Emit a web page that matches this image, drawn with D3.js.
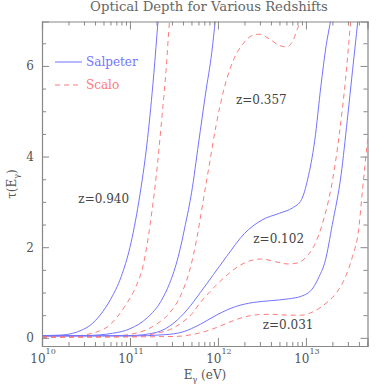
<!DOCTYPE html>
<html><head><meta charset="utf-8">
<script src="https://cdn.jsdelivr.net/npm/d3@7"></script>
<style>body{margin:0;background:#fff}svg{display:block}</style>
</head><body>
<svg id="c" width="388" height="388"></svg>
<script>
// ---------- data (log10 of photon energy in eV, optical depth tau) ----------
const xTickExponents = [10, 11, 12, 13];
const yTickLabels = [0, 2, 4, 6];
const legendLabels = ["Salpeter", "Scalo"];
const redshiftLabels = ["z=0.940", "z=0.357", "z=0.102", "z=0.031"];

const salpeter_z0940 = [[10.0,0.05],[10.2,0.06],[10.35,0.1],[10.45,0.17],[10.55,0.28],[10.66,0.5],[10.78,0.85],[10.9,1.35],[11.0,2.0],[11.1,3.0],[11.2,4.4],[11.27,5.8],[11.32,7.0],[11.35,7.6]];
const scalo_z0940 = [[10.0,0.02],[10.3,0.03],[10.5,0.07],[10.65,0.15],[10.75,0.25],[10.85,0.45],[10.96,0.75],[11.06,1.1],[11.15,1.6],[11.25,2.8],[11.3,3.6],[11.36,4.8],[11.41,5.9],[11.45,7.0],[11.48,7.5]];
const salpeter_z0357 = [[10.0,0.04],[10.5,0.05],[10.8,0.1],[11.0,0.2],[11.2,0.45],[11.35,0.8],[11.45,1.2],[11.55,1.8],[11.63,2.5],[11.7,3.2],[11.78,4.3],[11.86,5.4],[11.93,6.3],[11.97,7.0],[12.0,7.5]];
const scalo_z0357 = [[10.0,0.02],[10.8,0.04],[11.1,0.12],[11.3,0.3],[11.45,0.55],[11.58,0.95],[11.68,1.5],[11.76,2.2],[11.83,3.0],[11.9,3.8],[11.98,4.7],[12.07,5.5],[12.17,6.1],[12.29,6.5],[12.4,6.68],[12.47,6.7],[12.58,6.6],[12.7,6.45],[12.78,6.42],[12.85,6.55],[12.9,6.8],[12.95,7.05],[12.98,7.3]];
const salpeter_z0102 = [[10.0,0.04],[11.0,0.05],[11.3,0.12],[11.5,0.33],[11.65,0.62],[11.8,1.0],[11.95,1.4],[12.1,1.8],[12.3,2.3],[12.5,2.6],[12.7,2.75],[12.85,2.87],[12.95,3.05],[13.02,3.5],[13.1,4.35],[13.17,5.55],[13.23,6.45],[13.28,7.0],[13.31,7.4]];
const scalo_z0102 = [[10.0,0.02],[11.0,0.03],[11.3,0.1],[11.45,0.18],[11.6,0.35],[11.7,0.52],[11.8,0.78],[11.9,1.0],[12.0,1.2],[12.1,1.38],[12.25,1.6],[12.4,1.72],[12.5,1.74],[12.65,1.68],[12.8,1.63],[12.92,1.66],[13.0,1.78],[13.09,2.02],[13.2,2.6],[13.3,3.45],[13.38,4.5],[13.45,5.7],[13.51,7.0],[13.53,7.4]];
const salpeter_z0031 = [[10.0,0.05],[11.0,0.04],[11.4,0.07],[11.6,0.13],[11.8,0.3],[12.0,0.52],[12.2,0.69],[12.4,0.78],[12.6,0.82],[12.8,0.86],[12.95,0.92],[13.08,1.1],[13.15,1.35],[13.22,1.7],[13.3,2.5],[13.4,3.6],[13.47,4.8],[13.53,5.9],[13.59,7.0],[13.61,7.4]];
const scalo_z0031 = [[10.0,0.01],[11.5,0.03],[11.7,0.07],[11.87,0.15],[12.0,0.24],[12.15,0.36],[12.3,0.46],[12.45,0.51],[12.6,0.52],[12.8,0.5],[12.95,0.5],[13.05,0.55],[13.15,0.65],[13.25,0.8],[13.35,1.0],[13.45,1.35],[13.53,1.8],[13.6,2.4],[13.64,3.2],[13.7,4.35],[13.72,4.7]];

// ---------- layout ----------
const svg = d3.select("#c");
const L = 42, R = 367.5, T = 21.5, B = 346;
const FONT = "DejaVu Serif";
const TXT = "#555", AXC = "#888";
const BLUE = "#7373ff", RED = "#ff7a7a";

const x = d3.scaleLog().domain([1e10, Math.pow(10, 13.70)]).range([L, R]);
const y = d3.scaleLinear().domain([-0.18, 6.98]).range([B, T]);

svg.append("defs").append("clipPath").attr("id","clip")
  .append("rect").attr("x",L).attr("y",T).attr("width",R-L).attr("height",B-T);

// curves
const line = d3.line().x(d => x(Math.pow(10, d[0]))).y(d => y(d[1])).curve(d3.curveMonotoneX);
const series = [
  {d: salpeter_z0940, c: BLUE, dash: null},
  {d: scalo_z0940, c: RED, dash: "5,4"},
  {d: salpeter_z0357, c: BLUE, dash: null},
  {d: scalo_z0357, c: RED, dash: "5,4"},
  {d: salpeter_z0102, c: BLUE, dash: null},
  {d: scalo_z0102, c: RED, dash: "5,4"},
  {d: salpeter_z0031, c: BLUE, dash: null},
  {d: scalo_z0031, c: RED, dash: "5,4"}
];
const gc = svg.append("g").attr("clip-path","url(#clip)");
series.forEach(s => {
  gc.append("path").attr("d", line(s.d)).attr("fill","none")
    .attr("stroke", s.c).attr("stroke-width", 1)
    .attr("stroke-dasharray", s.dash);
});

// axes (ticks inward on all four sides)
const majorX = xTickExponents.map(e => Math.pow(10, e));
const minorX = [];
for (let e = 10; e <= 13; e++) for (let m = 2; m <= 9; m++) { const v = m * Math.pow(10, e); if (v <= x.domain()[1]) minorX.push(v); }
const minorY = d3.range(0, 7, 0.5).filter(v => yTickLabels.indexOf(v) < 0);

function styleAxis(g) {
  g.select(".domain").attr("stroke", AXC).attr("stroke-width", 1.2);
  g.selectAll(".tick line").attr("stroke", AXC).attr("stroke-width", 1);
  g.selectAll(".tick text").attr("fill", TXT).attr("font-family", FONT).attr("font-size", 12);
}
function ax(gen, tx, ty) {
  const g = svg.append("g").attr("transform", `translate(${tx},${ty})`).call(gen);
  styleAxis(g); return g;
}
ax(d3.axisBottom(x).tickValues(majorX).tickSize(-8).tickFormat(""), 0, B);
ax(d3.axisBottom(x).tickValues(minorX).tickSize(-4).tickFormat(""), 0, B).select(".domain").remove();
ax(d3.axisTop(x).tickValues(majorX).tickSize(-8).tickFormat(""), 0, T);
ax(d3.axisTop(x).tickValues(minorX).tickSize(-4).tickFormat(""), 0, T).select(".domain").remove();
ax(d3.axisLeft(y).tickValues(yTickLabels).tickSize(-7).tickPadding(8).tickFormat(d3.format("d")), L, 0);
ax(d3.axisLeft(y).tickValues(minorY).tickSize(-4).tickFormat(""), L, 0).select(".domain").remove();
ax(d3.axisRight(y).tickValues(yTickLabels).tickSize(-7).tickFormat(""), R, 0);
ax(d3.axisRight(y).tickValues(minorY).tickSize(-4).tickFormat(""), R, 0).select(".domain").remove();

// x tick labels 10^n
xTickExponents.forEach(e => {
  const t = svg.append("text").attr("x", x(Math.pow(10, e)) + 1).attr("y", 363)
    .attr("text-anchor","middle").attr("font-family", FONT).attr("font-size", 12).attr("fill", TXT);
  t.append("tspan").text("10");
  t.append("tspan").attr("dy", -9).attr("font-size", 8).text(String(e));
});

// axis titles
const xt = svg.append("text").attr("x", 205).attr("y", 379).attr("text-anchor","middle")
  .attr("font-family", FONT).attr("font-size", 12).attr("fill", TXT);
xt.append("tspan").text("E");
xt.append("tspan").attr("dy", 3).attr("font-size", 8).text("γ");
xt.append("tspan").attr("dy", -3).text(" (eV)");

const yt = svg.append("text").attr("transform","translate(16,184) rotate(-90)").attr("text-anchor","middle")
  .attr("font-family", FONT).attr("font-size", 12).attr("fill", TXT);
yt.append("tspan").text("τ(E");
yt.append("tspan").attr("dy", 3).attr("font-size", 8).text("γ");
yt.append("tspan").attr("dy", -3).text(")");

// title
const title = svg.append("text").attr("x", 209).attr("y", 11).attr("text-anchor","middle")
  .attr("font-family", FONT).attr("font-size", 12).attr("fill", "#666")
  .text("Optical Depth for Various Redshifts");
const tw = title.node().getComputedTextLength();
title.attr("font-size", 12 * 238 / tw);

// legend
const legendColors = [BLUE, RED], legendDash = [null, "5,4"];
legendLabels.forEach((lab, i) => {
  const ly = 62 + i * 23;
  svg.append("line").attr("x1", 55).attr("x2", 82).attr("y1", ly).attr("y2", ly)
    .attr("stroke", legendColors[i]).attr("stroke-width", 1).attr("stroke-dasharray", legendDash[i]);
  svg.append("text").attr("x", 86).attr("y", ly + 4.3).attr("font-family", FONT).attr("font-size", 12)
    .attr("fill", legendColors[i]).text(lab);
});

// redshift annotations (anchored in data space)
const zAnchors = [[10.413, 2.97], [12.205, 5.17], [12.402, 2.085], [12.509, 0.19]];
redshiftLabels.forEach((lab, i) => {
  svg.append("text").attr("x", x(Math.pow(10, zAnchors[i][0]))).attr("y", y(zAnchors[i][1]))
    .attr("font-family", FONT).attr("font-size", 12).attr("fill", "#444").text(lab);
});
</script>
</body></html>
